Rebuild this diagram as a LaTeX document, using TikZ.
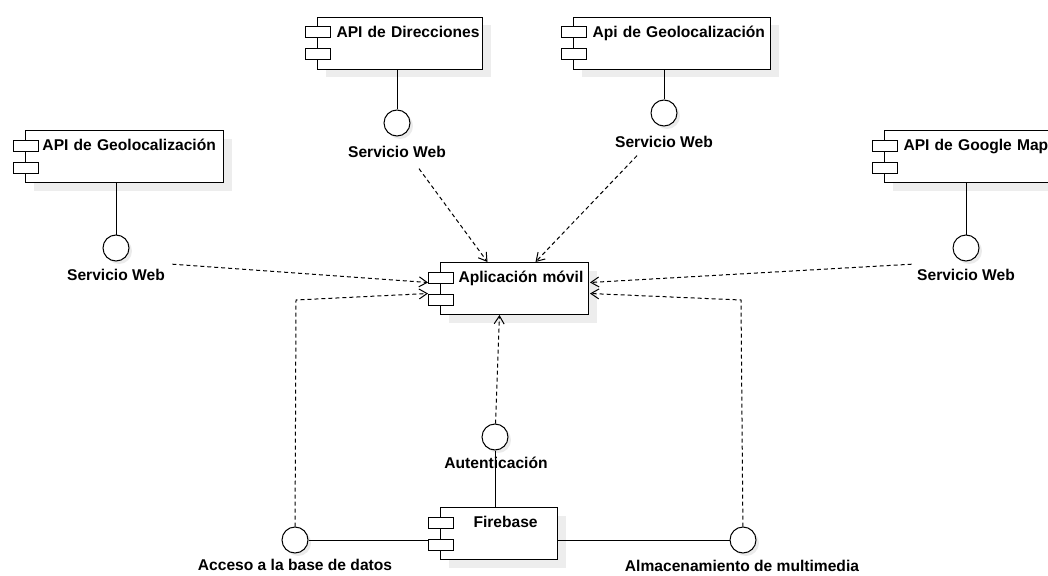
\documentclass[tikz,border=0pt]{standalone}
\usepackage{fontspec}
\setmainfont{Liberation Sans}
\usetikzlibrary{arrows.meta,calc,shadows}
\tikzset{
  comp/.style={draw, fill=white, anchor=north west, align=left, text width=#1,
    inner xsep=0pt, inner ysep=9pt, text height=11pt, text depth=23pt,
    drop shadow={shadow xshift=8pt, shadow yshift=-8pt, fill=black!7, opacity=1}},
  iface/.style={circle, draw, fill=white, minimum size=26pt, inner sep=0pt,
    drop shadow={shadow xshift=3pt, shadow yshift=-3pt, fill=black!8, opacity=1}},
  lbl/.style={anchor=base, inner sep=2pt},
  dep/.style={dash pattern=on 4pt off 3pt, -{Straight Barb[length=8pt,width=10pt]}},
}
\begin{document}
\begin{tikzpicture}[x=1pt, y=-1pt, line width=1pt, font=\fontsize{15.6}{18}\selectfont\bfseries]
\useasboundingbox (0,0) rectangle (1048,575);
\clip (0,0) rectangle (1048,575);
% componentes
\node[comp=165pt] (dir) at (317,17) {\hspace*{19pt}API de Direcciones};
\node[comp=197pt] (geoT) at (573,17) {\hspace*{19pt}Api de Geolocalización};
\node[comp=198pt] (geoL) at (25,130) {\hspace*{17pt}API de Geolocalización};
\node[comp=196pt] (maps) at (884,130) {\hspace*{19pt}API de Google Map};
\node[comp=148pt] (app) at (440,262) {\hspace*{18pt}Aplicación móvil};
\node[comp=117pt] (fb) at (440,507) {\hspace*{33pt}Firebase};
\foreach \c in {dir,geoT,geoL,maps,app,fb}{
  \draw[fill=white] ($(\c.north west)+(-12,10)$) rectangle +(25,11);
  \draw[fill=white] ($(\c.north west)+(-12,32)$) rectangle +(25,11);
}
% interfaces
\node[iface] (iDir) at (397,123){};
\node[iface] (iGeoT) at (664,113){};
\node[iface] (iGeoL) at (116,248){};
\node[iface] (iMaps) at (966,248){};
\node[iface] (iAuth) at (495,437){};
\node[iface] (iAcc) at (295,540){};
\node[iface] (iMul) at (743,540){};
\node[lbl] (tDir) at (397,157) {Servicio Web};
\node[lbl] (tGeoT) at (664,147) {Servicio Web};
\node[lbl] (tGeoL) at (116,280) {Servicio Web};
\node[lbl] (tMaps) at (966,280) {Servicio Web};
\node[lbl] (tAuth) at (496,468) {Autenticación};
\node[lbl] (tAcc) at (295,570) {Acceso a la base de datos};
\node[lbl] (tMul) at (742,571) {Almacenamiento de multimedia};
\coordinate (kAcc) at (296,300);
\coordinate (kMul) at (741,300);
% conexiones
\draw (iDir) -- (iDir |- dir.south);
\draw (iGeoT) -- (iGeoT |- geoT.south);
\draw (iGeoL) -- (iGeoL |- geoL.south);
\draw (iMaps) -- (iMaps |- maps.south);
\draw (iAuth) -- (iAuth |- fb.north);
\draw (iAcc) -- ($(fb.west |- iAcc)+(-12,0)$);
\draw (fb.east |- iMul) -- (iMul);
\draw[dep] ([xshift=22pt,yshift=-9pt]tDir.south) -- ([xshift=-27pt]app.north);
\draw[dep] ([xshift=-27pt,yshift=-6pt]tGeoT.south) -- ([xshift=21pt]app.north);
\draw[dep] ([xshift=5pt,yshift=2pt]tGeoL.north east) -- ([xshift=-12pt,yshift=6pt]app.west);
\draw[dep] ([xshift=-3pt,yshift=2pt]tMaps.north west) -- ([xshift=1pt,yshift=6pt]app.east);
\draw[dep] (iAuth) -- ([xshift=-15pt]app.south);
\draw[dep] (iAcc) -- (kAcc) -- ([xshift=-12pt,yshift=-5pt]app.west);
\draw[dep] (iMul) -- (kMul) -- ([xshift=1pt,yshift=-5pt]app.east);
\end{tikzpicture}
\end{document}
